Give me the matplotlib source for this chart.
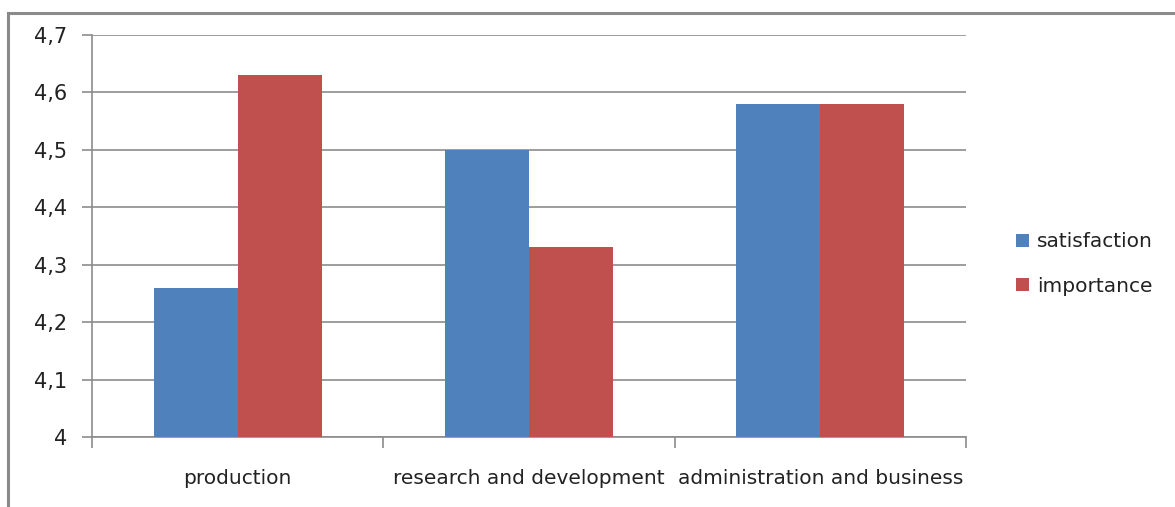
import matplotlib
matplotlib.use("Agg")
import matplotlib.pyplot as plt
import numpy as np
from matplotlib.lines import Line2D
from matplotlib.ticker import FixedLocator, FuncFormatter

categories = ["production", "research and development", "administration and business"]
satisfaction = [4.26, 4.50, 4.58]
importance = [4.63, 4.33, 4.58]
series_names = ["satisfaction", "importance"]
yticks = [4.0, 4.1, 4.2, 4.3, 4.4, 4.5, 4.6, 4.7]

plt.rcParams['font.family'] = ['DejaVu Sans']
fig = plt.figure(figsize=(11.75, 5.07), dpi=100)
ax = fig.add_axes([92/1175, 1-437/507, (966-92)/1175, (437-35)/507])

x = np.arange(len(categories))
w = 0.288
ax.bar(x - w/2, satisfaction, w, color="#4F81BD", label=series_names[0], zorder=3)
ax.bar(x + w/2, importance, w, color="#C0504D", label=series_names[1], zorder=3)

ax.set_xlim(-0.5, len(categories) - 0.5)
ax.set_ylim(4.0, 4.7)
ax.set_yticks(yticks)
ax.yaxis.set_major_formatter(FuncFormatter(lambda v, p: ("%g" % round(v, 1)).replace(".", ",")))
ax.grid(axis="y", color="#8c8c8c", linewidth=1.2, zorder=0)
ax.set_xticks(x)
ax.set_xticklabels(categories)
ax.xaxis.set_minor_locator(FixedLocator(np.arange(len(categories) + 1) - 0.5))
ax.tick_params(axis="x", which="major", length=0, pad=23, labelsize=14.5, colors="#222222")
ax.tick_params(axis="x", which="minor", length=8, width=1.2, color="#8c8c8c")
ax.tick_params(axis="y", length=7, width=1.2, color="#8c8c8c", pad=11, labelsize=15, labelcolor="#222222")
for s in ["top", "right"]:
    ax.spines[s].set_visible(False)
for s in ["left", "bottom"]:
    ax.spines[s].set_color("#8c8c8c")
    ax.spines[s].set_linewidth(1.2)

leg = fig.legend(loc="center left", bbox_to_anchor=(998/1175, 1-264/507), frameon=False,
                 fontsize=14.5, handlelength=0.65, handleheight=0.65, handletextpad=0.4,
                 labelspacing=1.25)
for t in leg.get_texts():
    t.set_color("#222222")

fig.add_artist(Line2D([8/1175, 8/1175], [0, 1-13/507], color="#8a8a8a", linewidth=2.2, transform=fig.transFigure))
fig.add_artist(Line2D([8/1175, 1], [1-13/507, 1-13/507], color="#8a8a8a", linewidth=2.2, transform=fig.transFigure))

fig.savefig("out.png", dpi=100)
